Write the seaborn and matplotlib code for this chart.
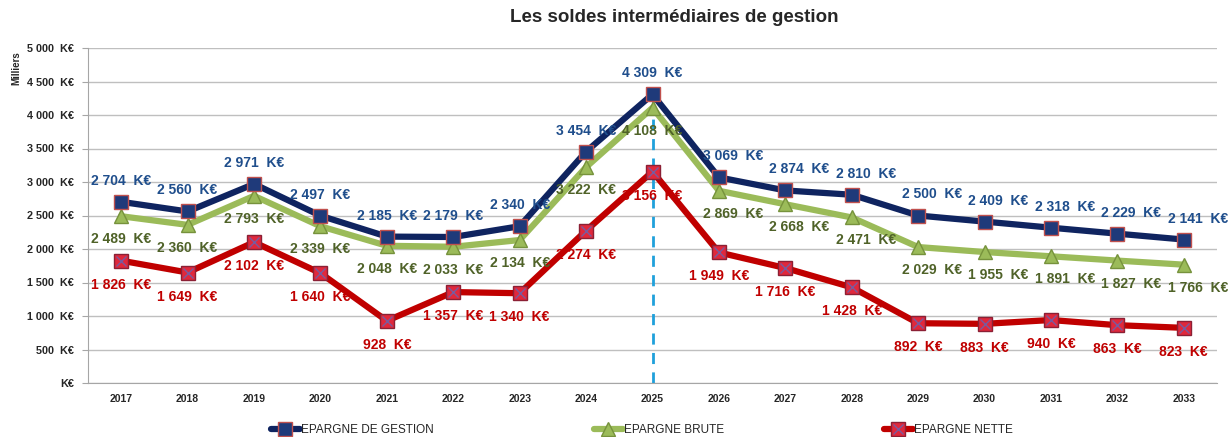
import numpy as np
import pandas as pd
import matplotlib
matplotlib.use("Agg")
import matplotlib.pyplot as plt
from matplotlib.legend_handler import HandlerTuple
from matplotlib.lines import Line2D
import seaborn as sns

years = [str(y) for y in range(2017, 2034)]
gestion = [2704, 2560, 2971, 2497, 2185, 2179, 2340, 3454, 4309, 3069, 2874, 2810, 2500, 2409, 2318, 2229, 2141]
brute = [2489, 2360, 2793, 2339, 2048, 2033, 2134, 3222, 4108, 2869, 2668, 2471, 2029, 1955, 1891, 1827, 1766]
nette = [1826, 1649, 2102, 1640, 928, 1357, 1340, 2274, 3156, 1949, 1716, 1428, 892, 883, 940, 863, 823]
highlight_year = "2025"


def fmt(v):
    if v == 0:
        return "K€"
    return f"{int(v):,}".replace(",", " ") + "  K€"


sns.set_style("white")
plt.rcParams["font.family"] = ["Liberation Sans", "DejaVu Sans"]

fig = plt.figure(figsize=(12.29, 4.37), dpi=100)
ax = fig.add_axes([88 / 1229, 1 - 383 / 437, (1217 - 88) / 1229, (383 - 48) / 437])

x = np.arange(len(years))
df = pd.DataFrame({"x": x, "gestion": gestion, "brute": brute, "nette": nette})

# horizontal grid
ax.set_ylim(0, 5000)
ax.set_xlim(-0.5, len(years) - 0.5)
ax.set_yticks(np.arange(0, 5001, 500))
ax.yaxis.grid(True, color="#BFBFBF", lw=1)
ax.set_axisbelow(True)

# vertical dashed marker on 2025
hx = years.index(highlight_year)
ax.plot([hx, hx], [0, gestion[hx]], color="#1FA0DB", lw=2, ls=(0, (4, 3)), zorder=1)

styles = {
    "gestion": dict(color="#0F2460", marker="s", mfc="#1F3A7A", mec="#C0504D", label="EPARGNE DE GESTION"),
    "brute": dict(color="#9BBB59", marker="^", mfc="#9BBB59", mec="#76923C", label="EPARGNE BRUTE"),
    "nette": dict(color="#C00000", marker="s", mfc="#E0283C", mec="#8B2035", label="EPARGNE NETTE"),
}
handles = {}
for key in ["brute", "nette", "gestion"]:
    st = styles[key]
    sns.lineplot(data=df, x="x", y=key, ax=ax, color=st["color"], lw=4.5,
                 marker=st["marker"], markersize=10, markerfacecolor=st["mfc"],
                 markeredgecolor=st["mec"], markeredgewidth=1, zorder=3, label=st["label"])
    handles[key] = ax.lines[-1]

# purple cross inside the red squares
ax.plot(x, nette, ls="none", marker="x", ms=7, mew=1, color="#7A5A9E", zorder=4)

# data labels
label_cols = {"gestion": "#1F4E8C", "brute": "#4F6228", "nette": "#C00000"}
offsets = {"gestion": 21, "brute": -23, "nette": -24}
for key, vals in [("gestion", gestion), ("brute", brute), ("nette", nette)]:
    for i, v in enumerate(vals):
        dx = 14 if (key != "nette" and i > hx) else 0
        ax.annotate(fmt(v), (i, v), xytext=(dx, offsets[key]), textcoords="offset pixels",
                    ha="center", va="center", fontsize=10, fontweight="bold",
                    color=label_cols[key], zorder=5)

ax.set_xticks(x)
ax.set_xticklabels(years, fontsize=7.5, fontweight="bold")
ax.set_yticklabels([fmt(v) for v in ax.get_yticks()], fontsize=7.8, fontweight="bold")
ax.set_xlabel("")
ax.set_ylabel("")
for s in ["top", "right"]:
    ax.spines[s].set_visible(False)
ax.spines["left"].set_color("#A6A6A6")
ax.spines["bottom"].set_color("#A6A6A6")
ax.tick_params(axis="y", length=4, color="#A6A6A6", direction="out", left=True, pad=6)
ax.tick_params(axis="x", length=0, pad=8)

ax.get_legend().remove()
cross = Line2D([], [], ls="none", marker="x", ms=7, mew=1, color="#7A5A9E")
leg = fig.legend([handles["gestion"], handles["brute"], (handles["nette"], cross)],
                 ["EPARGNE DE GESTION", "EPARGNE BRUTE", "EPARGNE NETTE"],
                 handler_map={tuple: HandlerTuple(ndivide=1, pad=0)},
                 loc="center", bbox_to_anchor=(642 / 1229, 1 - 430 / 437), ncol=3,
                 frameon=False, fontsize=8.5, handlelength=2.5, handletextpad=0.1,
                 columnspacing=13.5)
for t in leg.get_texts():
    t.set_color("#262626")

fig.text(674 / 1229, 1 - 18 / 437, "Les soldes intermédiaires de gestion",
         ha="center", va="center", fontsize=13.5, fontweight="bold", color="#262626")
fig.text(16 / 1229, 1 - 68 / 437, "Milliers", rotation=90, ha="center", va="center",
         fontsize=7, fontweight="bold")

fig.savefig("out.png", dpi=100)
